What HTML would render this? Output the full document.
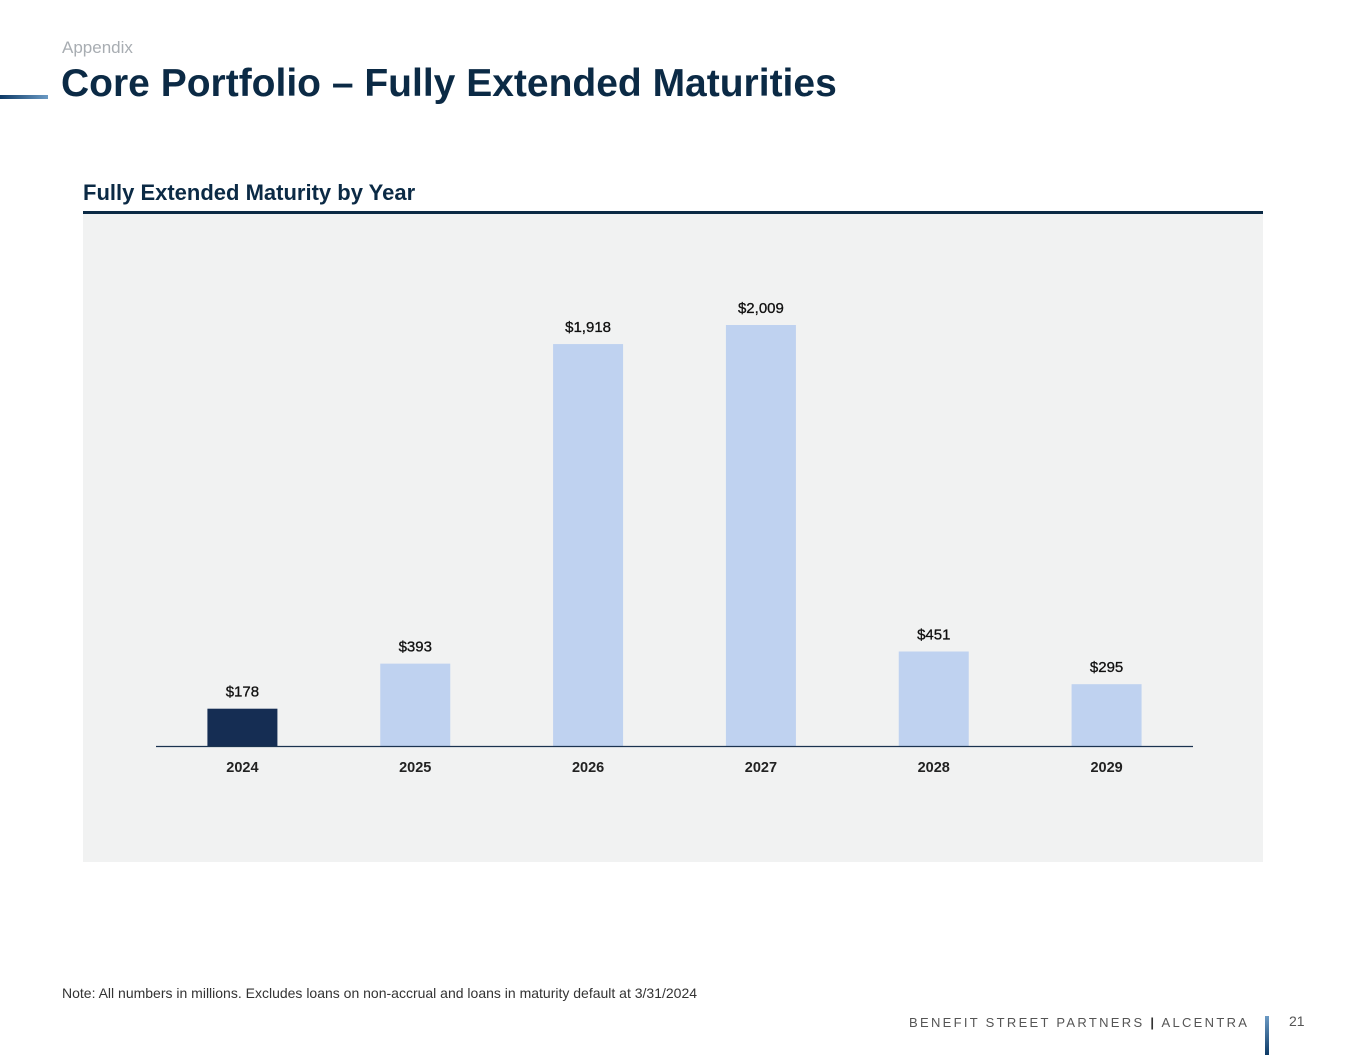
<!DOCTYPE html>
<html><head><meta charset="utf-8"><style>
body{margin:0;width:1365px;height:1055px;background:#fff;font-family:"Liberation Sans",sans-serif;position:relative;overflow:hidden}
.a{position:absolute}
</style></head><body>
<div class="a" style="left:62px;top:38px;font-size:17px;color:#a8adb2">Appendix</div>
<div class="a" style="left:0;top:95px;width:48px;height:4px;background:linear-gradient(90deg,#0d3a66,#6b9ac4)"></div>
<div class="a" style="left:61px;top:62px;font-size:39px;font-weight:bold;color:#0b2a45;letter-spacing:0px">Core Portfolio – Fully Extended Maturities</div>
<div class="a" style="left:83px;top:180px;font-size:22px;font-weight:bold;color:#0b2a45;letter-spacing:0px">Fully Extended Maturity by Year</div>
<div class="a" style="left:83px;top:211px;width:1180px;height:3px;background:#0b2a45"></div>
<div class="a" style="left:83px;top:214px;width:1180px;height:648px;background:#f1f2f2"></div>
<svg class="a" style="left:0;top:0" width="1365" height="1055" id="chart"></svg>
<div class="a" style="left:62px;top:985px;font-size:14px;color:#333">Note: All numbers in millions. Excludes loans on non-accrual and loans in maturity default at 3/31/2024</div>
<div class="a" style="left:909px;top:1015px;font-size:13px;color:#555;letter-spacing:2.3px;white-space:nowrap">BENEFIT STREET PARTNERS <b style="color:#333">|</b> ALCENTRA</div>
<div class="a" style="left:1265px;top:1016px;width:4px;height:39px;background:linear-gradient(#6b9ac4,#0d3a66)"></div>
<div class="a" style="left:1289px;top:1013px;font-size:14px;color:#555">21</div>
<script>
const categories=["2024","2025","2026","2027","2028","2029"];
const values=[178,393,1918,2009,451,295];
const valueLabels=["$178","$393","$1,918","$2,009","$451","$295"];
const svg=document.getElementById('chart');
const NS="http://www.w3.org/2000/svg";
const x0=156,x1=1193,base=746,scale=421/2009,bw=70;
const step=(x1-x0)/categories.length;
const xc=i=>x0+step*(i+0.5);
const y=v=>base-v*scale;
categories.forEach((c,i)=>{
 const r=document.createElementNS(NS,'rect');
 r.setAttribute('x',xc(i)-bw/2);r.setAttribute('y',y(values[i]));
 r.setAttribute('width',bw);r.setAttribute('height',base-y(values[i]));
 r.setAttribute('fill',i===0?'#152d53':'#bfd2f0');
 
 
 svg.appendChild(r);
 const t=document.createElementNS(NS,'text');
 t.setAttribute('x',xc(i));t.setAttribute('y',y(values[i])-12);
 t.setAttribute('text-anchor','middle');t.setAttribute('font-size','15');t.setAttribute('fill','#111');
 t.setAttribute('stroke','#111');t.setAttribute('stroke-width','0.3');
 t.textContent=valueLabels[i];
 
 
 svg.appendChild(t);
 const l=document.createElementNS(NS,'text');
 l.setAttribute('x',xc(i));l.setAttribute('y',772);
 l.setAttribute('text-anchor','middle');l.setAttribute('font-size','14.5');l.setAttribute('font-weight','bold');l.setAttribute('fill','#222');
 l.textContent=c;
 
 
 svg.appendChild(l);
});
const ax=document.createElementNS(NS,'line');
ax.setAttribute('x1',x0);ax.setAttribute('x2',x1);ax.setAttribute('y1',base+0.5);ax.setAttribute('y2',base+0.5);
ax.setAttribute('stroke','#1b3350');ax.setAttribute('stroke-width','1.3');


svg.appendChild(ax);
</script>
</body></html>
